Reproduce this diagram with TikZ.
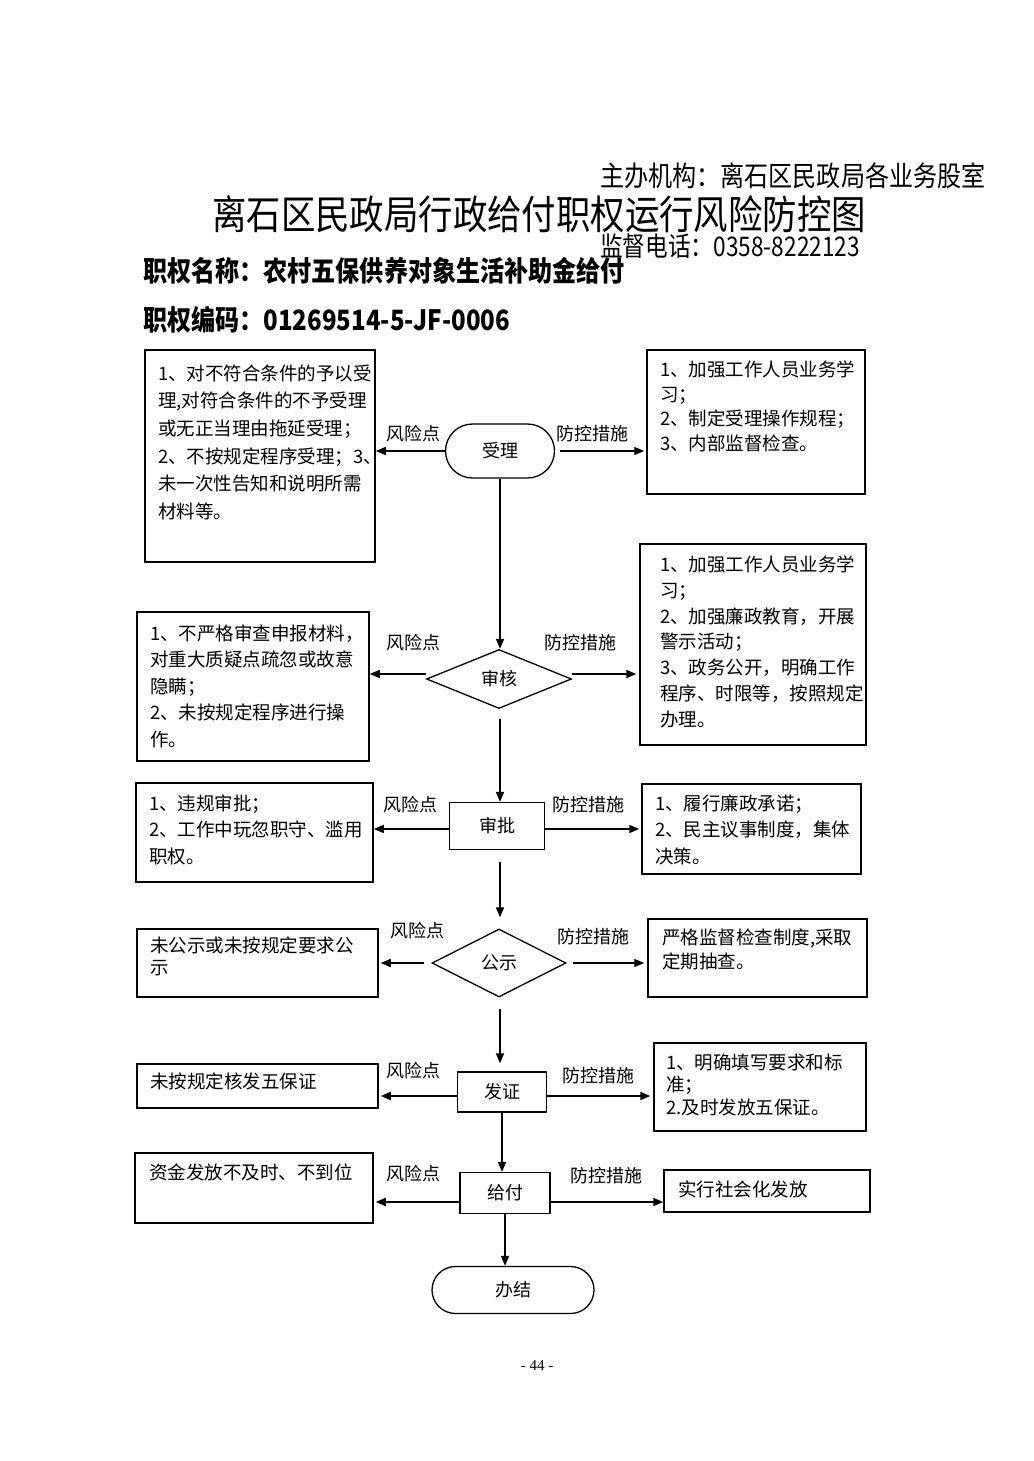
\documentclass[tikz,border=0pt]{standalone}
\usepackage{fontspec}
\setmainfont{Noto Sans CJK SC}
\newfontfamily\serifnum{Liberation Serif}
\usetikzlibrary{shapes.geometric,shapes.misc,arrows.meta}
\newcommand\btext[5]{\node[body, font=\fontsize{18.5}{#4}\selectfont] (#1) at (#2,{#3-9.5}) {#5};}
\begin{document}
\begin{tikzpicture}[x=1pt,y=-1pt,
 every node/.style={inner sep=0pt},
 frame/.style={draw, line width=1.5pt, rectangle},
 body/.style={align=left, anchor=north west},
 lab/.style={font=\fontsize{18}{18}\selectfont},
 conn/.style={line width=1.6pt, -{Triangle[length=10pt,width=8pt]}},
 stadium/.style={draw, line width=1.3pt, rounded rectangle, font=\fontsize{18}{18}\selectfont},
 dia/.style={draw, line width=1.3pt, diamond, font=\fontsize{18}{18}\selectfont},
 proc/.style={draw, line width=1.3pt, rectangle, font=\fontsize{18}{18}\selectfont},
]
\useasboundingbox (0,0) rectangle (1033,1461);

% header
\node[anchor=west, font=\fontsize{28}{28}\selectfont] (org) at (600,176) {\scalebox{0.86}[1]{主办机构：离石区民政局各业务股室}};
\node (title) at (539,214) {\scalebox{0.86}[1]{\fontsize{40}{40}\selectfont 离石区民政局行政给付职权运行风险防控图}};
\node[anchor=west, font=\fontsize{27}{27}\selectfont] (tel) at (600,246) {\scalebox{0.84}[1]{监督电话：0358-8222123}};
\node[anchor=west, font=\fontsize{28}{28}\selectfont\bfseries] (name) at (143,271) {\scalebox{0.86}[1]{职权名称：农村五保供养对象生活补助金给付}};
\node[anchor=west, font=\fontsize{28}{28}\selectfont\bfseries] (code) at (143,320) {\scalebox{0.86}[1]{职权编码：01269514-5-JF-0006}};

% process nodes
\node[stadium, minimum width=109pt, minimum height=54pt] (s1) at (500,451) {受理};
\node[dia, minimum width=145pt, minimum height=59pt] (s2) at (499,679) {审核};
\node[proc, minimum width=95pt, minimum height=47pt] (s3) at (497,826) {审批};
\node[dia, minimum width=134pt, minimum height=68pt] (s4) at (499,963) {公示};
\node[proc, minimum width=89pt, minimum height=40pt] (s5) at (502,1092) {发证};
\node[proc, minimum width=90pt, minimum height=41pt] (s6) at (505,1193) {给付};
\node[stadium, minimum width=162pt, minimum height=47pt] (s7) at (513,1290) {办结};

% boxes
\node[frame, minimum width=230pt, minimum height=212pt] (ral) at (260,456) {};
\node[frame, minimum width=218pt, minimum height=144pt] (rar) at (756,422) {};
\node[frame, minimum width=232pt, minimum height=149pt] (rbl) at (253,686.5) {};
\node[frame, minimum width=226pt, minimum height=201pt] (rbr) at (753,644.5) {};
\node[frame, minimum width=237pt, minimum height=99pt] (rcl) at (254.5,832.5) {};
\node[frame, minimum width=219pt, minimum height=90pt] (rcr) at (751.5,829) {};
\node[frame, minimum width=241pt, minimum height=68pt] (rdl) at (257.5,963) {};
\node[frame, minimum width=219pt, minimum height=78pt] (rdr) at (757.5,958) {};
\node[frame, minimum width=241pt, minimum height=44pt] (rel) at (257.5,1086) {};
\node[frame, minimum width=212pt, minimum height=88pt] (rer) at (760,1087) {};
\node[frame, minimum width=238pt, minimum height=70pt] (rfl) at (254,1188) {};
\node[frame, minimum width=206pt, minimum height=42pt] (rfr) at (767,1191) {};

% box texts
\btext{tal}{158}{374}{27.6}{1、对不符合条件的予以受\\理,对符合条件的不予受理\\或无正当理由拖延受理；\\2、不按规定程序受理；3、\\未一次性告知和说明所需\\材料等。}
\btext{tar}{660}{370}{24.7}{1、加强工作人员业务学\\习；\\2、制定受理操作规程；\\3、内部监督检查。}
\btext{tbl}{150}{634}{26.5}{1、不严格审查申报材料，\\对重大质疑点疏忽或故意\\隐瞒；\\2、未按规定程序进行操\\作。}
\btext{tbr}{660}{565}{25.8}{1、加强工作人员业务学\\习；\\2、加强廉政教育，开展\\警示活动；\\3、政务公开，明确工作\\程序、时限等，按照规定\\办理。}
\btext{tcl}{149}{804}{26.5}{1、违规审批；\\2、工作中玩忽职守、滥用\\职权。}
\btext{tcr}{655}{804}{26.5}{1、履行廉政承诺；\\2、民主议事制度，集体\\决策。}
\btext{tdl}{150}{946}{22}{未公示或未按规定要求公\\示}
\btext{tdr}{662}{938}{24}{严格监督检查制度,采取\\定期抽查。}
\btext{tel}{150}{1082}{22}{未按规定核发五保证}
\btext{ter}{666}{1063}{22.5}{1、明确填写要求和标\\准；\\2.及时发放五保证。}
\btext{tfl}{149}{1173}{22}{资金发放不及时、不到位}
\btext{tfr}{678}{1190}{22}{实行社会化发放}

% labels
\node[lab] (l1) at (413,434) {风险点};
\node[lab] (m1) at (592,434) {防控措施};
\node[lab] (l2) at (413,643) {风险点};
\node[lab] (m2) at (580,643) {防控措施};
\node[lab] (l3) at (410,805) {风险点};
\node[lab] (m3) at (588,805) {防控措施};
\node[lab] (l4) at (417,931) {风险点};
\node[lab] (m4) at (593,937) {防控措施};
\node[lab] (l5) at (413,1071) {风险点};
\node[lab] (m5) at (598,1076) {防控措施};
\node[lab] (l6) at (413,1174) {风险点};
\node[lab] (m6) at (606,1176) {防控措施};

% horizontal arrows
\draw[conn] (s1.west) -- (s1.west -| ral.east);
\draw[conn, shorten <=5pt, shorten >=2pt] (s1.east) -- (s1.east -| rar.west);
\draw[conn] ([yshift=5pt]s2.west) -- ([yshift=5pt]s2.west -| rbl.east);
\draw[conn, shorten >=3pt] ([yshift=5pt]s2.east) -- ([yshift=5pt]s2.east -| rbr.west);
\draw[conn] ([yshift=-3pt]s3.west) -- ([yshift=-3pt]s3.west -| rcl.east);
\draw[conn, shorten >=2pt] ([yshift=-3pt]s3.east) -- ([yshift=-3pt]s3.east -| rcr.west);
\draw[conn, shorten <=7pt, shorten >=2pt] (s4.west) -- (s4.west -| rdl.east);
\draw[conn, shorten <=6pt, shorten >=3pt] (s4.east) -- (s4.east -| rdr.west);
\draw[conn, shorten >=2pt] ([yshift=-4pt]s5.west) -- ([yshift=-4pt]s5.west -| rel.east);
\draw[conn, shorten >=3pt] ([yshift=-4pt]s5.east) -- ([yshift=-4pt]s5.east -| rer.west);
\draw[conn, shorten >=2pt] ([yshift=-9pt]s6.west) -- ([yshift=-9pt]s6.west -| rfl.east);
\draw[conn] ([yshift=-9pt]s6.east) -- ([yshift=-9pt]s6.east -| rfr.west);

% vertical arrows
\draw[conn] (s1.south) -- (s1.south |- s2.north);
\draw[conn, shorten <=10pt] (s2.south -| s1.south) -- (s1.south |- s3.north);
\draw[conn, shorten <=12pt, shorten >=11pt] (s3.south -| s1.south) -- (s1.south |- s4.north);
\draw[conn, shorten <=11pt, shorten >=8pt] (s4.south -| s1.south) -- (s1.south |- s5.north);
\draw[conn] (s5.south) -- (s5.south |- s6.north);
\draw[conn] (s6.south) -- (s6.south |- s7.north);

% page number
\node[font=\serifnum\fontsize{15}{15}\selectfont] (pg) at (537,1366) {- 44 -};
\end{tikzpicture}
\end{document}
